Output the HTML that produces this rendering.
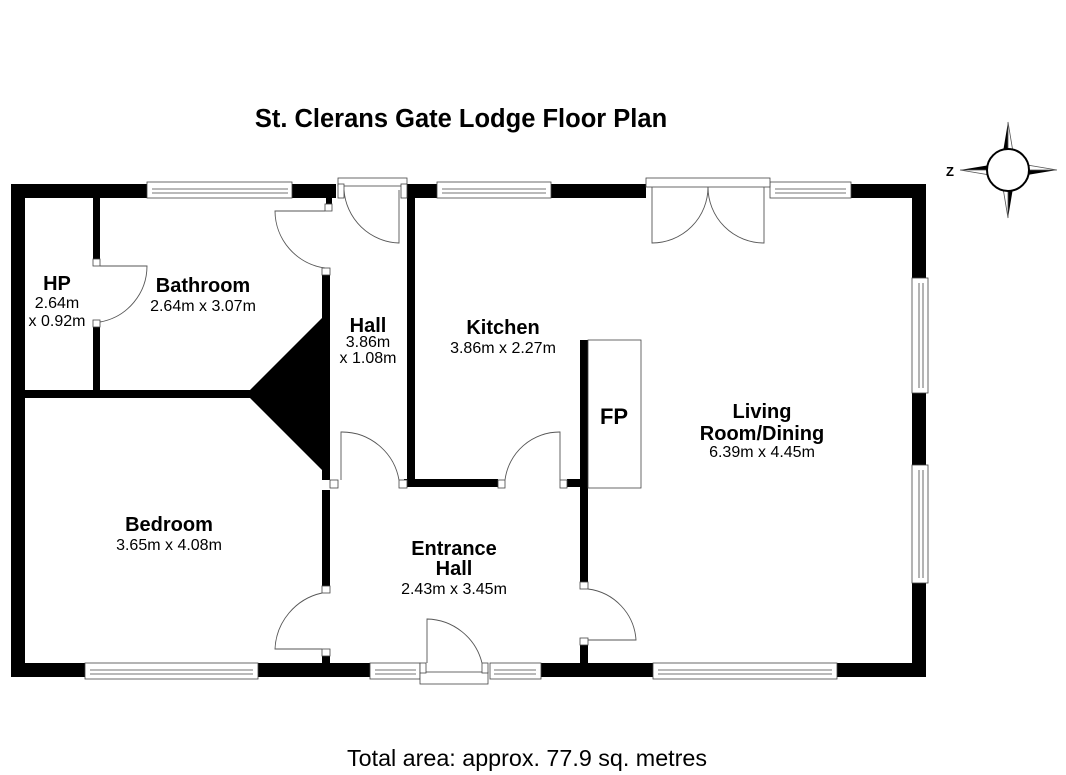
<!DOCTYPE html>
<html><head><style>
html,body{margin:0;padding:0;background:#fff;}
svg{display:block;}
text{font-family:"Liberation Sans",sans-serif;fill:#000;}
.b{font-weight:bold;}
</style></head><body>
<svg width="1066" height="775" viewBox="0 0 1066 775" xmlns="http://www.w3.org/2000/svg">
<rect width="1066" height="775" fill="#fff"/>
<text x="461" y="127" class="b" font-size="25.5" text-anchor="middle">St. Clerans Gate Lodge Floor Plan</text>
<text x="527" y="766" font-size="23.3" text-anchor="middle">Total area: approx. 77.9 sq. metres</text>

<!-- compass -->
<g stroke-width="0.8">
<polygon points="1008,122 1003,152 1008,152" fill="#000"/><polygon points="1008,122 1013,152 1008,152" fill="#fff" stroke="#555"/>
<polygon points="1008,218 1013,188 1008,188" fill="#000"/><polygon points="1008,218 1003,188 1008,188" fill="#fff" stroke="#555"/>
<polygon points="960,170 990,165 990,170" fill="#000"/><polygon points="960,170 990,175 990,170" fill="#fff" stroke="#555"/>
<polygon points="1057,170 1027,175 1027,170" fill="#000"/><polygon points="1057,170 1027,165 1027,170" fill="#fff" stroke="#555"/>
<circle cx="1008" cy="170" r="21" fill="#fff" stroke="#000" stroke-width="2"/>
<text x="950" y="176" class="b" font-size="13" text-anchor="middle">Z</text>
</g>

<g fill="#000">
<rect x="11" y="184" width="136" height="14"/>
<rect x="292" y="184" width="44" height="14"/>
<rect x="407" y="184" width="30" height="14"/>
<rect x="551" y="184" width="95" height="14"/>
<rect x="851" y="184" width="74" height="14"/>
<rect x="11" y="184" width="14" height="493"/>
<rect x="912" y="184" width="14" height="94"/>
<rect x="912" y="393" width="14" height="72"/>
<rect x="912" y="583" width="14" height="94"/>
<rect x="11" y="663" width="74" height="14"/>
<rect x="258" y="663" width="112" height="14"/>
<rect x="541" y="663" width="112" height="14"/>
<rect x="837" y="663" width="89" height="14"/>
<rect x="93" y="198" width="7" height="67"/>
<rect x="93" y="327" width="7" height="64"/>
<rect x="25" y="390" width="230" height="8"/>
<polygon points="250,390 322,318 330,318 330,470 322,470 250,398"/>
<rect x="322" y="275" width="8" height="205"/>
<rect x="322" y="490" width="8" height="100"/>
<rect x="322" y="656" width="8" height="8"/>
<rect x="326" y="198" width="6" height="6"/>
<rect x="407" y="198" width="8" height="282"/>
<rect x="404" y="479" width="94" height="8"/>
<rect x="567" y="479" width="16" height="8"/>
<rect x="580" y="340" width="8" height="242"/>
<rect x="580" y="645" width="8" height="19"/>
</g>

<g fill="#fff" stroke="#444" stroke-width="0.8">
<rect x="147" y="182" width="145" height="16"/><line x1="152" y1="189" x2="288" y2="189"/><line x1="152" y1="193" x2="288" y2="193"/>
<rect x="437" y="182" width="114" height="16"/><line x1="442" y1="189" x2="546" y2="189"/><line x1="442" y1="193" x2="546" y2="193"/>
<rect x="770" y="182" width="81" height="16"/><line x1="775" y1="189" x2="846" y2="189"/><line x1="775" y1="193" x2="846" y2="193"/>
<rect x="338" y="178" width="69" height="8"/>
<rect x="338" y="184" width="6" height="14"/><rect x="401" y="184" width="6" height="14"/>
<rect x="646" y="178" width="124" height="9"/>
<rect x="912" y="278" width="16" height="115"/><line x1="919" y1="283" x2="919" y2="388"/><line x1="923" y1="283" x2="923" y2="388"/>
<rect x="912" y="465" width="16" height="118"/><line x1="919" y1="470" x2="919" y2="578"/><line x1="923" y1="470" x2="923" y2="578"/>
<rect x="85" y="663" width="173" height="16"/><line x1="90" y1="670" x2="253" y2="670"/><line x1="90" y1="674" x2="253" y2="674"/>
<rect x="370" y="663" width="50" height="16"/><line x1="375" y1="670" x2="416" y2="670"/><line x1="375" y1="674" x2="416" y2="674"/>
<rect x="490" y="663" width="51" height="16"/><line x1="494" y1="670" x2="536" y2="670"/><line x1="494" y1="674" x2="536" y2="674"/>
<rect x="653" y="663" width="184" height="16"/><line x1="658" y1="670" x2="832" y2="670"/><line x1="658" y1="674" x2="832" y2="674"/>
<rect x="420" y="672" width="68" height="12"/>
<rect x="420" y="663" width="6" height="10"/><rect x="482" y="663" width="6" height="10"/>
<rect x="588" y="340" width="53" height="148"/>
<rect x="93" y="259" width="7" height="7"/><rect x="93" y="320" width="7" height="7"/>
<rect x="322" y="268" width="8" height="7"/><rect x="325" y="204" width="7" height="7"/>
<rect x="330" y="480" width="8" height="8"/><rect x="399" y="480" width="8" height="8"/>
<rect x="498" y="480" width="7" height="8"/><rect x="560" y="480" width="7" height="8"/>
<rect x="322" y="586" width="8" height="7"/><rect x="322" y="649" width="8" height="7"/>
<rect x="580" y="582" width="8" height="7"/><rect x="580" y="638" width="8" height="7"/>
</g>

<g fill="none" stroke="#555" stroke-width="0.9">
<path d="M100,266 L147,266 A57,57 0 0 1 100,322"/>
<path d="M325,211 L275,211 A58,58 0 0 0 325,268"/>
<path d="M399,190 L399,243 A57,57 0 0 1 344,190"/>
<path d="M652,187 L652,243 A56,56 0 0 0 708,187"/>
<path d="M764,187 L764,243 A56,56 0 0 1 708,187"/>
<path d="M341,480 L341,432 A58,58 0 0 1 399,480"/>
<path d="M560,480 L560,432 A55,55 0 0 0 505,480"/>
<path d="M322,649 L275,649 A60,60 0 0 1 322,593"/>
<path d="M588,640 L636,640 A55,55 0 0 0 588,589"/>
<path d="M427,663 L427,619 A58,58 0 0 1 482,663"/>
</g>

<g text-anchor="middle">
<text x="57" y="290" class="b" font-size="20">HP</text>
<text x="57" y="308" font-size="16">2.64m</text>
<text x="57" y="326" font-size="16">x 0.92m</text>
<text x="203" y="292" class="b" font-size="20">Bathroom</text>
<text x="203" y="311" font-size="16">2.64m x 3.07m</text>
<text x="368" y="332" class="b" font-size="20">Hall</text>
<text x="368" y="347" font-size="16">3.86m</text>
<text x="368" y="363" font-size="16">x 1.08m</text>
<text x="503" y="334" class="b" font-size="20">Kitchen</text>
<text x="503" y="353" font-size="16">3.86m x 2.27m</text>
<text x="614" y="424" class="b" font-size="22">FP</text>
<text x="762" y="418" class="b" font-size="20">Living</text>
<text x="762" y="440" class="b" font-size="20">Room/Dining</text>
<text x="762" y="457" font-size="16">6.39m x 4.45m</text>
<text x="169" y="531" class="b" font-size="20">Bedroom</text>
<text x="169" y="550" font-size="16">3.65m x 4.08m</text>
<text x="454" y="555" class="b" font-size="20">Entrance</text>
<text x="454" y="575" class="b" font-size="20">Hall</text>
<text x="454" y="594" font-size="16">2.43m x 3.45m</text>
</g>
</svg>
</body></html>
